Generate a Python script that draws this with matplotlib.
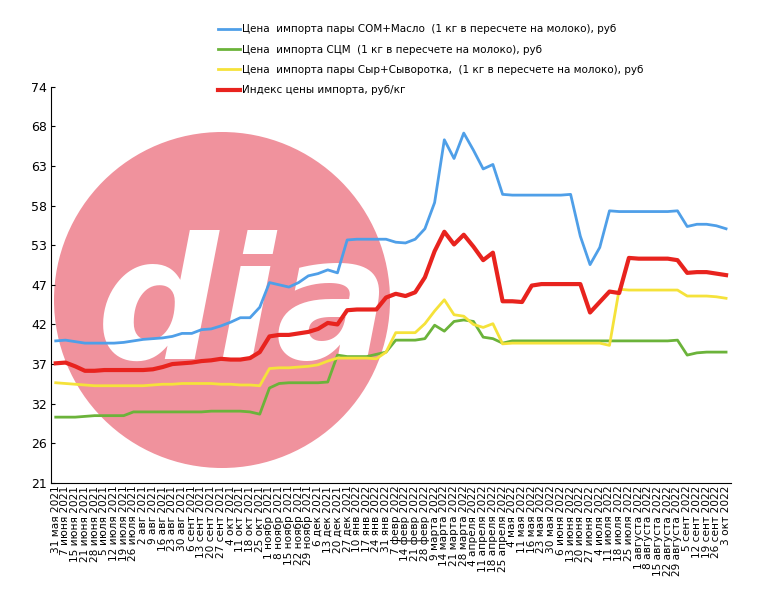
import matplotlib
matplotlib.use("Agg")
import matplotlib.pyplot as plt
from matplotlib.patches import Circle
import numpy as np

dates = ["31 мая 2021","7 июня 2021","15 июня 2021","21 июня 2021","28 июня 2021","5 июля 2021","12 июля 2021","19 июля 2021","26 июля 2021",
"2 авг 2021","9 авг 2021","16 авг 2021","23 авг 2021","30 авг 2021","6 сент 2021","13 сент 2021","20 сент 2021","27 сент 2021",
"4 окт 2021","11 окт 2021","18 окт 2021","25 окт 2021","1 ноябр 2021","8 ноябр 2021","15 ноябр 2021","22 ноябр 2021","29 ноябр 2021",
"6 дек 2021","13 дек 2021","20 дек 2021","27 дек 2021","10 янв 2022","17 янв 2022","24 янв 2022","31 янв 2022",
"7 февр 2022","14 февр 2022","21 февр 2022","28 февр 2022","9 марта 2022","14 марта 2022","21 марта 2022","28 марта 2022",
"4 апреля 2022","11 апреля 2022","18 апреля 2022","25 апреля 2022","4 мая 2022","11 мая 2022","16 мая 2022","23 мая 2022","30 мая 2022",
"6 июня 2022","13 июня 2022","20 июня 2022","27 июня 2022","4 июля 2022","11 июля 2022","18 июля 2022","25 июля 2022",
"1 августа 2022","8 августа 2022","15 августа 2022","22 августа 2022","29 августа 2022","5 сент 2022","12 сент 2022","19 сент 2022","26 сент 2022","3 окт 2022"]

blue = [40.0,40.1,39.9,39.7,39.7,39.7,39.7,39.8,40.0,40.2,40.3,40.4,40.6,41.0,41.0,41.5,41.6,42.0,42.5,43.1,43.1,44.5,47.8,47.5,47.2,47.8,48.7,49.0,49.5,49.1,53.5,
        53.6,53.6,53.6,53.6,53.2,53.1,53.6,55.0,58.5,66.9,64.4,67.8,65.5,63.0,63.6,59.6,59.5,59.5,59.5,59.5,59.5,59.5,59.6,54.0,50.2,52.5,57.4,57.3,57.3,
        57.3,57.3,57.3,57.3,57.4,55.3,55.6,55.6,55.4,55.0]
green = [29.8,29.8,29.8,29.9,30.0,30.0,30.0,30.0,30.5,30.5,30.5,30.5,30.5,30.5,30.5,30.5,30.6,30.6,30.6,30.6,30.5,30.2,33.7,34.3,34.4,34.4,34.4,34.4,34.5,38.1,
         37.9,37.9,37.9,38.2,38.5,40.1,40.1,40.1,40.3,42.1,41.3,42.6,42.8,42.6,40.5,40.3,39.7,40.0,40.0,40.0,40.0,40.0,40.0,40.0,40.0,40.0,40.0,40.0,40.0,40.0,
         40.0,40.0,40.0,40.0,40.1,38.1,38.4,38.5,38.5,38.5]
yellow = [34.4,34.3,34.2,34.1,34.0,34.0,34.0,34.0,34.0,34.0,34.1,34.2,34.2,34.3,34.3,34.3,34.3,34.2,34.2,34.1,34.1,34.0,36.3,36.4,36.4,36.5,36.6,36.8,37.3,37.7,
          37.7,37.7,37.7,37.6,38.5,41.1,41.1,41.1,42.3,44.0,45.5,43.5,43.3,42.2,41.8,42.3,39.6,39.7,39.7,39.7,39.7,39.7,39.7,39.7,39.7,39.7,39.7,39.4,46.9,46.8,
          46.8,46.8,46.8,46.8,46.8,46.0,46.0,46.0,45.9,45.7]
red = [37.0,37.1,36.6,36.0,36.0,36.1,36.1,36.1,36.1,36.1,36.2,36.5,36.9,37.0,37.1,37.3,37.4,37.6,37.5,37.5,37.7,38.5,40.6,40.8,40.8,41.0,41.2,41.6,42.4,42.2,
       44.1,44.2,44.2,44.2,45.8,46.3,46.0,46.5,48.5,52.0,54.6,52.9,54.2,52.6,50.8,51.8,45.3,45.3,45.2,47.4,47.6,47.6,47.6,47.6,47.6,43.8,45.2,46.6,46.4,51.1,
       51.0,51.0,51.0,51.0,50.8,49.1,49.2,49.2,49.0,48.8]

ytick_vals = [21 + 5.3*k for k in range(11)]
ytick_labels = ["21","26","32","37","42","47","53","58","63","68","74"]

labels = ["Цена  импорта пары СОМ+Масло  (1 кг в пересчете на молоко), руб",
          "Цена  импорта СЦМ  (1 кг в пересчете на молоко), руб",
          "Цена  импорта пары Сыр+Сыворотка,  (1 кг в пересчете на молоко), руб",
          "Индекс цены импорта, руб/кг"]
colors = ["#4F9FE8", "#6BB33A", "#F5E23A", "#E8231E"]
widths = [2.0, 2.0, 2.0, 3.0]

W, H = 771, 594
fig = plt.figure(figsize=(7.71, 5.94), dpi=100)

wax = fig.add_axes([0, 0, 1, 1], zorder=0)
wax.set_xlim(0, W); wax.set_ylim(H, 0); wax.axis("off")
wax.add_patch(Circle((222, 300), 168, color="#F0929D", lw=0))
wax.text(244, 312, "dia", fontsize=122, color="white", fontweight="bold", style="italic",
         ha="center", va="center", family="DejaVu Sans")

ax = fig.add_axes([0.066, 0.187, 0.882, 0.667], zorder=1)
ax.set_facecolor("none")
x = np.arange(len(dates))
for s, c, lw, lab in zip([blue, green, yellow, red], colors, widths, labels):
    ax.plot(x, s, color=c, lw=lw, label=lab, solid_joinstyle="round", zorder=3)

ax.set_xlim(-0.5, len(dates) - 0.5)
ax.set_ylim(21, 74)
ax.set_yticks(ytick_vals)
ax.set_yticklabels(ytick_labels, fontsize=9)
ax.set_xticks(x)
ax.set_xticklabels(dates, rotation=90, fontsize=7.6)
ax.tick_params(axis="x", length=0, pad=2)
ax.tick_params(axis="y", length=3, direction="in", pad=14)
for yl in ax.get_yticklabels():
    yl.set_horizontalalignment("left")
ax.spines["top"].set_visible(False)
ax.spines["right"].set_visible(False)

handles, labs = ax.get_legend_handles_labels()
fig.legend(handles, labs, loc="upper left", bbox_to_anchor=(0.27, 0.975), frameon=False,
           fontsize=7.5, handlelength=2.2, handletextpad=0.1, labelspacing=1.0)

fig.savefig("out.png", dpi=100)
